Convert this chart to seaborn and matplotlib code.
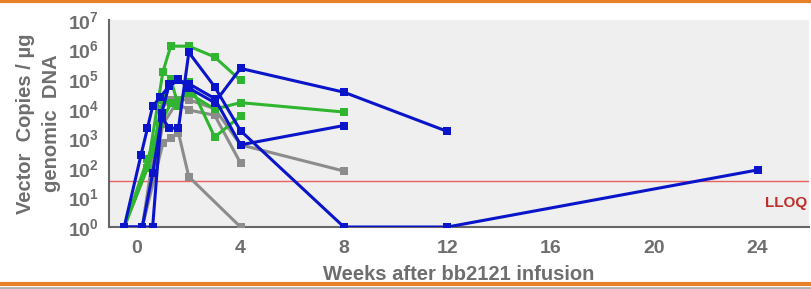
import numpy as np
import pandas as pd
import seaborn as sns
import matplotlib.pyplot as plt
from matplotlib.lines import Line2D
from matplotlib.ticker import LogLocator, FixedLocator

# patient curves: weeks after infusion / vector copies per ug genomic DNA
blue_1_wk = [-0.5, 0.2, 0.6, 0.95, 1.25, 1.6, 2, 3, 4, 8, 12, 24]
blue_1_val = [1, 1, 65, 5e3, 2.2e3, 2.2e3, 8e5, 5.5e4, 1.8e3, 1, 1, 85]
blue_2_wk = [-0.5, 0.15, 0.4, 0.6, 0.9, 1.25, 1.6, 2, 3, 4, 8]
blue_2_val = [1, 270, 2.2e3, 1.2e4, 2.5e4, 6e4, 9e4, 7e4, 2.2e4, 600, 2.7e3]
blue_3_wk = [-0.5, 0.6, 0.95, 1.25, 1.6, 2, 3, 4, 8, 12]
blue_3_val = [1, 1, 7e3, 7e4, 1e5, 5e4, 1.6e4, 2.3e5, 3.6e4, 1.7e3]

green_1_wk = [-0.5, 0.4, 1.0, 1.3, 2, 3, 4]
green_1_val = [1, 100, 1.8e5, 1.3e6, 1.3e6, 5.6e5, 9e4]
green_2_wk = [-0.5, 0.4, 0.9, 1.3, 2, 3, 4, 8]
green_2_val = [1, 200, 3e3, 1.5e4, 3.3e4, 9.7e3, 1.6e4, 7.7e3]
green_3_wk = [-0.5, 0.6, 1.0, 1.3, 1.6, 2, 3, 4]
green_3_val = [1, 300, 2e4, 1e5, 1.2e4, 8e4, 1.1e3, 5.6e3]

grey_1_wk = [0.2, 1.0, 1.3, 1.6, 2, 4]
grey_1_val = [1, 700, 1e3, 1.5e3, 50, 1]
grey_2_wk = [0.2, 0.9, 1.3, 2, 3, 4]
grey_2_val = [1, 1e4, 2e4, 9e3, 6e3, 145]
grey_3_wk = [0.2, 1.0, 1.6, 2, 3, 4, 8]
grey_3_val = [1, 3e3, 2e4, 2e4, 1e4, 600, 78]

lloq = 35
x_ticks = [0, 4, 8, 12, 16, 20, 24]

series = {
    'grey1': (grey_1_wk, grey_1_val, '#8c8c8c'),
    'grey2': (grey_2_wk, grey_2_val, '#8c8c8c'),
    'grey3': (grey_3_wk, grey_3_val, '#8c8c8c'),
    'green1': (green_1_wk, green_1_val, '#2fb52f'),
    'green2': (green_2_wk, green_2_val, '#2fb52f'),
    'green3': (green_3_wk, green_3_val, '#2fb52f'),
    'blue1': (blue_1_wk, blue_1_val, '#0a14c8'),
    'blue2': (blue_2_wk, blue_2_val, '#0a14c8'),
    'blue3': (blue_3_wk, blue_3_val, '#0a14c8'),
}

rows = []
for name, (wk, val, col) in series.items():
    for i, (w, v) in enumerate(zip(wk, val)):
        rows.append({'pid': name, 'order': i, 'week': w, 'copies': v})
df = pd.DataFrame(rows)
palette = {k: v[2] for k, v in series.items()}

sns.set_style('white')
plt.rcParams['font.family'] = ['Liberation Sans', 'DejaVu Sans']
plt.rcParams['mathtext.fontset'] = 'custom'
plt.rcParams['mathtext.rm'] = 'Liberation Sans:bold'
plt.rcParams['mathtext.bf'] = 'Liberation Sans:bold'
plt.rcParams['mathtext.it'] = 'Liberation Sans:bold'

fig = plt.figure(figsize=(8.11, 2.89), dpi=100)
ax = fig.add_axes([0.134, 0.2145, 0.864, 0.7165])
ax.set_facecolor('#efefef')

ax.axhline(lloq, color='#e86060', lw=1.0, zorder=1)

sns.lineplot(data=df, x='week', y='copies', hue='pid', units='pid', estimator=None,
             sort=False, palette=palette, marker='s', markersize=5.5,
             markeredgewidth=0, linewidth=2.2, legend=False, ax=ax, zorder=3)

ax.set_yscale('log')
ax.set_ylim(1, 1e7)
ax.set_xlim(-1.1, 26)
ax.set_xticks(x_ticks)
ax.set_xticklabels([str(t) for t in x_ticks])
ax.yaxis.set_major_locator(FixedLocator([10.0 ** k for k in range(8)]))
ax.set_yticklabels([r'$10^{%d}$' % k for k in range(8)])
ax.yaxis.set_minor_locator(LogLocator(base=10, subs=np.arange(2, 10), numticks=20))

txt = '#6e6e6e'
ax.tick_params(axis='both', which='major', direction='out', length=5, width=1.3,
               color='#666666', labelcolor=txt, labelsize=14, pad=2)
ax.tick_params(axis='x', which='major', pad=4)
ax.tick_params(axis='y', which='minor', direction='out', length=3, width=0.8, color='#666666')
for lbl in ax.get_xticklabels() + ax.get_yticklabels():
    lbl.set_fontweight('bold')

for s in ['top', 'right']:
    ax.spines[s].set_visible(False)
for s in ['left', 'bottom']:
    ax.spines[s].set_color('#666666')
    ax.spines[s].set_linewidth(1.5)

ax.set_xlabel('Weeks after bb2121 infusion', fontsize=14.5, fontweight='bold', color=txt, labelpad=6)
ax.set_ylabel('Vector  Copies / µg\ngenomic  DNA', fontsize=14.5, fontweight='bold', color=txt,
              labelpad=5, linespacing=1.45)

ax.text(25.9, 6.5, 'LLOQ', color='#c0302a', fontsize=11, fontweight='bold', ha='right', va='center')

# orange frame lines at top and bottom
fig.add_artist(Line2D([0, 1], [0.995, 0.995], color='#e8802a', lw=3, transform=fig.transFigure))
fig.add_artist(Line2D([0, 1], [0.016, 0.016], color='#e8802a', lw=3, transform=fig.transFigure))
fig.add_artist(Line2D([0, 1], [0.004, 0.004], color='#b0b0b0', lw=2, transform=fig.transFigure))

fig.savefig('out.png', dpi=100)
